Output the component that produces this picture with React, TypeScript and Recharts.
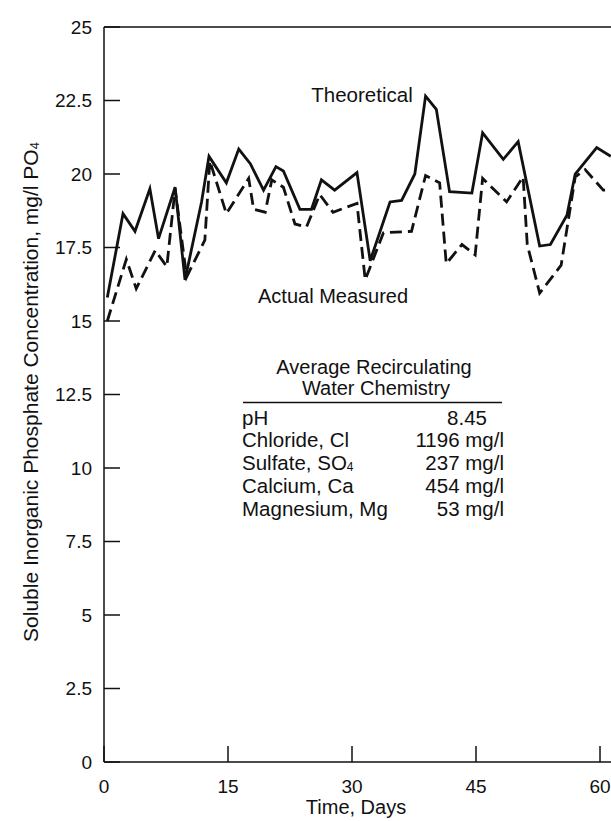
import { LineChart, Line, XAxis, YAxis, ReferenceLine } from "recharts";

// Days and concentrations
const theoreticalDays = [
	0.4, 2.3, 3.75, 5.55, 6.6, 8.6, 9.8, 11.8, 12.7, 14.8, 16.3, 17.7, 19.3, 20.8, 21.7, 23.7, 25.1, 26.3, 27.9,
	30.6, 32.2, 34.6, 36.0, 37.6, 38.9, 40.2, 41.8, 44.5, 45.8, 48.3, 50.1, 52.7, 54.0, 56.0, 57.0, 59.6, 61.3,
];
const theoreticalValues = [
	15.8, 18.65, 18.05, 19.5, 17.8, 19.55, 16.4, 19.05, 20.6, 19.7, 20.85, 20.35, 19.45, 20.25, 20.1, 18.8, 18.8, 19.8, 19.45,
	20.05, 17.05, 19.05, 19.1, 20.0, 22.65, 22.2, 19.4, 19.35, 21.4, 20.5, 21.1, 17.55, 17.6, 18.6, 20.0, 20.9, 20.6,
];

const measuredDays = [
	0.4, 2.7, 3.9, 6.2, 7.6, 8.6, 10.0, 12.2, 12.8, 14.8, 17.5, 18.1, 19.5, 20.3, 21.7, 23.1, 24.5, 26.1, 27.7,
	30.6, 31.6, 33.8, 37.2, 38.9, 40.6, 41.4, 43.3, 44.9, 45.8, 48.7, 50.7, 51.2, 52.7, 55.3, 57.0, 58.2, 60.4, 61.3,
];
const measuredValues = [
	15.0, 17.1, 16.1, 17.4, 16.85, 19.5, 16.5, 17.75, 20.45, 18.65, 19.85, 18.8, 18.7, 19.8, 19.55, 18.3, 18.2, 19.3, 18.7,
	19.0, 16.4, 18.0, 18.05, 19.95, 19.7, 16.95, 17.6, 17.25, 19.85, 19.05, 19.9, 17.6, 15.95, 16.9, 19.9, 20.15, 19.45, 19.45,
];

const xTicks = [0, 15, 30, 45, 60];
const yTicks = [0, 2.5, 5, 7.5, 10, 12.5, 15, 17.5, 20, 22.5, 25];

const chemistryNames = ["pH", "Chloride, Cl", "Sulfate, SO", "Calcium, Ca", "Magnesium, Mg"];
const chemistryValues = ["8.45", "1196 mg/l", "237 mg/l", "454 mg/l", "53 mg/l"];

const theoreticalData = theoreticalDays.map((day, i) => ({ day, value: theoreticalValues[i] }));
const measuredData = measuredDays.map((day, i) => ({ day, value: measuredValues[i] }));

const FONT = "'Liberation Sans', Arial, Helvetica, sans-serif";
const INK = "#111";

export default function App() {
	const tickStyle = { fill: INK, fontSize: 19, fontFamily: FONT };

	return (
		<div style={{ position: "absolute", left: 0, top: 0, width: 611, height: 821, background: "#fff" }}>
			<LineChart width={611} height={821} margin={{ top: 27, right: 0, bottom: 0, left: 0 }}>
				<XAxis
					type="number"
					dataKey="day"
					domain={[0, 61.33]}
					ticks={xTicks}
					allowDataOverflow
					height={59}
					axisLine={{ stroke: INK, strokeWidth: 1.5 }}
					tickLine={{ stroke: INK, strokeWidth: 1.5 }}
					tickSize={-16}
					tickMargin={34}
					tick={tickStyle}
				/>
				<YAxis
					type="number"
					domain={[0, 25]}
					ticks={yTicks}
					width={104}
					axisLine={{ stroke: INK, strokeWidth: 1.5 }}
					tickLine={{ stroke: INK, strokeWidth: 1.5 }}
					tickSize={-16}
					tickMargin={28}
					tick={tickStyle}
				/>
				<ReferenceLine y={25} stroke={INK} strokeWidth={1.5} />
				<Line
					data={theoreticalData}
					dataKey="value"
					type="linear"
					stroke={INK}
					strokeWidth={2.8}
					dot={false}
					isAnimationActive={false}
				/>
				<Line
					data={measuredData}
					dataKey="value"
					type="linear"
					stroke={INK}
					strokeWidth={2.8}
					strokeDasharray="12 6"
					dot={false}
					isAnimationActive={false}
				/>
			</LineChart>

			<svg
				width={611}
				height={821}
				style={{ position: "absolute", left: 0, top: 0, pointerEvents: "none" }}
				fontFamily={FONT}
				fill={INK}
			>
				{/* axis titles */}
				<text x={356} y={807} fontSize={20} textAnchor="middle" dominantBaseline="central">
					Time, Days
				</text>
				<text
					transform="translate(30,392) rotate(-90)"
					fontSize={21}
					textAnchor="middle"
					dominantBaseline="central"
				>
					Soluble Inorganic Phosphate Concentration, mg/l PO<tspan fontSize={13} dy={4}>4</tspan>
				</text>

				{/* series labels */}
				<text x={362} y={94} fontSize={20.5} textAnchor="middle" dominantBaseline="central">
					Theoretical
				</text>
				<text x={258} y={296} fontSize={20} dominantBaseline="central">
					Actual Measured
				</text>

				{/* water chemistry table */}
				<text x={374} y={367} fontSize={20} textAnchor="middle" dominantBaseline="central">
					Average Recirculating
				</text>
				<text x={376} y={388} fontSize={20} textAnchor="middle" dominantBaseline="central">
					Water Chemistry
				</text>
				<line x1={243} x2={502} y1={402.5} y2={402.5} stroke={INK} strokeWidth={1.3} />
				{chemistryNames.map((name, i) => (
					<text key={name} x={242} y={417 + i * 22.8} fontSize={20.5} dominantBaseline="central">
						{name}
						{name.endsWith("SO") && (
							<tspan fontSize={12} dy={4}>
								4
							</tspan>
						)}
					</text>
				))}
				{chemistryValues.map((value, i) => (
					<text
						key={value}
						x={i === 0 ? 487 : 504}
						y={417 + i * 22.8}
						fontSize={20.5}
						textAnchor="end"
						dominantBaseline="central"
					>
						{value}
					</text>
				))}
			</svg>
		</div>
	);
}
